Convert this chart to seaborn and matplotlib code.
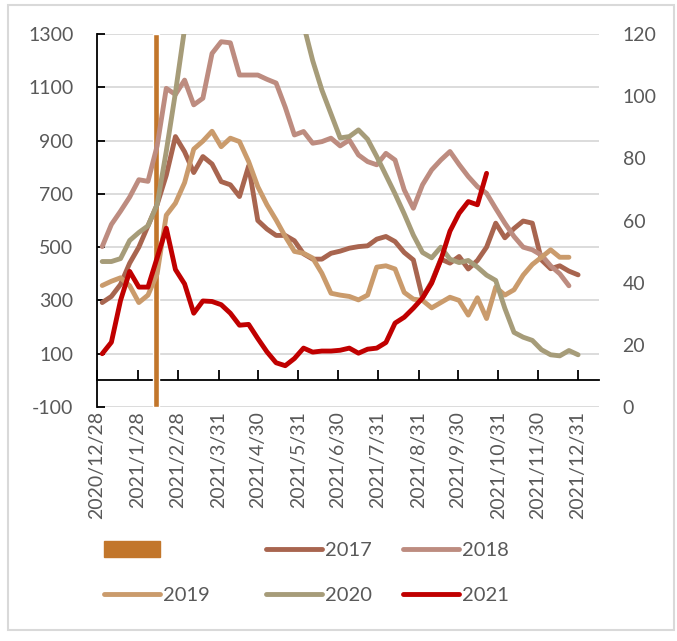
import numpy as np
import pandas as pd
import matplotlib
matplotlib.use("Agg")
import matplotlib.pyplot as plt
import matplotlib.dates as mdates
import seaborn as sns
from matplotlib.patches import Patch, Rectangle
from matplotlib.lines import Line2D

# weekly points, aligned on the 2021 calendar
weeks = pd.date_range("2021-01-01", periods=53, freq="7D")

y2017 = [292, 315, 360, 440, 500, 580, 660, 770, 915, 858, 780, 840, 812, 746, 734, 690,
         805, 600, 568, 544, 544, 524, 475, 455, 455, 477, 485, 496, 502, 505, 530, 540,
         521, 480, 452, 310, 370, 455, 440, 465, 418, 450, 500, 590, 535, 570, 598, 590,
         452, 419, 430, 410, 396]
y2018 = [502, 585, 635, 688, 753, 747, 880, 1096, 1073, 1127, 1034, 1059, 1227, 1271, 1267, 1146,
         1146, 1146, 1130, 1116, 1025, 921, 934, 890, 896, 909, 880, 902, 846, 821, 809, 852,
         827, 715, 646, 734, 790, 827, 859, 810, 765, 727, 702, 645, 590, 540, 500, 490,
         470, 430, 400, 355]
y2019 = [356, 372, 385, 355, 292, 320, 400, 620, 665, 742, 868, 898, 935, 877, 909, 896,
         821, 727, 659, 602, 540, 484, 477, 459, 402, 327, 320, 315, 302, 320, 425, 430,
         418, 330, 305, 300, 272, 292, 312, 300, 245, 310, 232, 350, 320, 340, 395, 435,
         462, 490, 462, 462]
# 2020 runs above the top of the chart in spring: those weeks cannot be read
y2020 = [446, 446, 457, 525, 555, 580, 660, 860, 1080, 1320, np.nan, np.nan, np.nan, np.nan, np.nan, np.nan,
         np.nan, np.nan, np.nan, np.nan, np.nan, np.nan, 1335, 1200, 1090, 1000, 910, 915, 940, 905, 840, 770,
         700, 625, 545, 480, 460, 500, 455, 442, 450, 425, 395, 375, 270, 180, 162, 150,
         115, 96, 92, 112, 96]
y2021 = [100, 143, 300, 409, 350, 350, 460, 571, 416, 362, 252, 298, 296, 284, 252, 207,
         210, 157, 107, 66, 55, 82, 121, 106, 110, 110, 113, 121, 102, 117, 121, 142,
         215, 237, 271, 309, 365, 452, 560, 627, 671, 659, 777]

years = ["2017", "2018", "2019", "2020", "2021"]
series = [y2017, y2018, y2019, y2020, y2021]

holiday = pd.Timestamp("2021-02-11")
tick_dates = pd.to_datetime(["2020-12-28", "2021-01-28", "2021-02-28", "2021-03-31", "2021-04-30",
                             "2021-05-31", "2021-06-30", "2021-07-31", "2021-08-31", "2021-09-30",
                             "2021-10-31", "2021-11-30", "2021-12-31"])
tick_labels = ["2020/12/28", "2021/1/28", "2021/2/28", "2021/3/31", "2021/4/30", "2021/5/31",
               "2021/6/30", "2021/7/31", "2021/8/31", "2021/9/30", "2021/10/31", "2021/11/30",
               "2021/12/31"]

colors = {"2017": "#A8654F", "2018": "#BD8C80", "2019": "#CA9B6C", "2020": "#A69C79", "2021": "#C00000"}
bar_color = "#C2762B"
grey = "#595959"

rows = []
for yr, vals in zip(years, series):
    rows.append(pd.DataFrame({"date": weeks[:len(vals)], "value": vals, "year": yr}))
df = pd.concat(rows, ignore_index=True)

sns.set_style("white")
plt.rcParams["font.family"] = ["Lato", "DejaVu Sans"]
plt.rcParams["font.size"] = 14
plt.rcParams["axes.unicode_minus"] = False

fig = plt.figure(figsize=(6.77, 6.41), dpi=100)
ax = fig.add_axes([97 / 677, 1 - 407 / 641, (599 - 97) / 677, (407 - 34) / 641])

ax.bar(holiday, 1400, bottom=-100, width=5, color=bar_color, zorder=2)
sns.lineplot(data=df, x="date", y="value", hue="year", palette=colors, estimator=None,
             linewidth=3.5, legend=False, ax=ax, zorder=3)
for ln in ax.lines:
    ln.set_solid_capstyle("round")
    ln.set_solid_joinstyle("round")

ax.set_xlim(pd.Timestamp("2020-12-28"), pd.Timestamp("2022-01-16"))
ax.set_ylim(-100, 1300)
ax.set_yticks(range(-100, 1301, 200))
ax.yaxis.grid(True, color="#D9D9D9", linewidth=1.3)
ax.set_axisbelow(True)
ax.set_xlabel("")
ax.set_ylabel("")
for s in ["top", "right", "bottom"]:
    ax.spines[s].set_visible(False)
ax.spines["left"].set_color("black")
ax.spines["left"].set_linewidth(1.3)
ax.tick_params(axis="y", direction="in", length=6, width=1.3, color="black",
               labelcolor=grey, labelsize=14, pad=17)
ax.set_xticks(tick_dates)
ax.set_xticklabels(tick_labels, rotation=90, color=grey, fontsize=14)
ax.tick_params(axis="x", length=0, pad=3)

# horizontal axis line crossing at zero
zero = ax.secondary_xaxis(0, transform=ax.transData)
zero.set_xticks(mdates.date2num(tick_dates))
zero.tick_params(direction="in", length=7, width=1.3, color="black", labelbottom=False)
zero.spines["bottom"].set_color("black")
zero.spines["bottom"].set_linewidth(1.3)

ax2 = ax.twinx()
ax2.set_ylim(0, 120)
ax2.set_yticks(range(0, 121, 20))
for s in ax2.spines.values():
    s.set_visible(False)
ax2.tick_params(axis="y", length=0, labelcolor=grey, labelsize=14, pad=17)

# legend laid out as a 2x3 grid: one small legend per column
handles = {"": Patch(facecolor=bar_color, edgecolor=bar_color)}
for yr in years:
    handles[yr] = Line2D([], [], color=colors[yr], lw=3.5, solid_capstyle="round")
columns = [["", "2019"], ["2017", "2020"], ["2018", "2021"]]
col_x = [104, 266, 403]
for keys, x in zip(columns, col_x):
    fig.legend([handles[k] for k in keys], keys, ncol=1, frameon=False,
               loc="upper left", bbox_to_anchor=(x / 677, 1 - 541 / 641), borderaxespad=0, borderpad=0,
               handlelength=2.8, handleheight=0.85, handletextpad=0.15,
               labelspacing=1.35, labelcolor=grey, fontsize=14.5)

fig.patches.append(Rectangle((8 / 677, 1 - 630 / 641), (674 - 8) / 677, (630 - 5) / 641,
                             transform=fig.transFigure, fill=False, edgecolor="#D9D9D9", linewidth=1.5))

fig.savefig("out.png", dpi=100)
